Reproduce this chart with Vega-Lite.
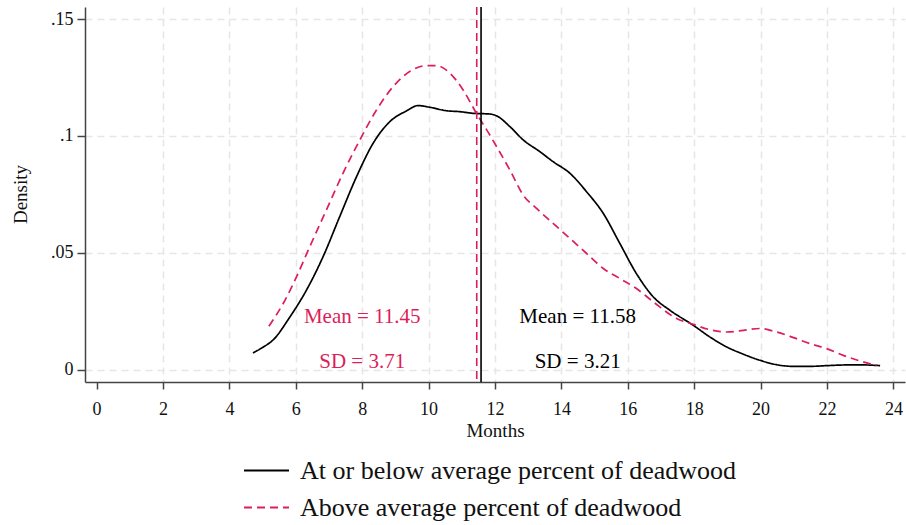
{
  "$schema": "https://vega.github.io/schema/vega-lite/v6.json",
  "width": 820,
  "height": 375,
  "autosize": {"type": "none"},
  "padding": {"left": 85, "top": 7, "right": 1, "bottom": 143},
  "background": "white",
  "config": {
    "font": "Liberation Serif",
    "view": {"stroke": null},
    "axis": {
      "labelFont": "Liberation Serif",
      "titleFont": "Liberation Serif",
      "labelFontSize": 18,
      "titleFontSize": 19,
      "labelColor": "#111",
      "titleColor": "#111",
      "titleFontWeight": "normal",
      "domainColor": "#444",
      "domainWidth": 1.5,
      "tickColor": "#444",
      "tickWidth": 1.5,
      "gridColor": "#e6e6e6",
      "gridWidth": 1.5,
      "gridDash": [7, 5]
    }
  },
  "datasets": {
    "curves": [
      {"series": "At or below average percent of deadwood", "month": 4.71, "density": 0.0071},
      {"series": "At or below average percent of deadwood", "month": 5.0, "density": 0.0095},
      {"series": "At or below average percent of deadwood", "month": 5.31, "density": 0.0126},
      {"series": "At or below average percent of deadwood", "month": 5.82, "density": 0.0225},
      {"series": "At or below average percent of deadwood", "month": 6.32, "density": 0.034},
      {"series": "At or below average percent of deadwood", "month": 6.82, "density": 0.0483},
      {"series": "At or below average percent of deadwood", "month": 7.32, "density": 0.0654},
      {"series": "At or below average percent of deadwood", "month": 7.83, "density": 0.0826},
      {"series": "At or below average percent of deadwood", "month": 8.33, "density": 0.0969},
      {"series": "At or below average percent of deadwood", "month": 8.83, "density": 0.1061},
      {"series": "At or below average percent of deadwood", "month": 9.33, "density": 0.1107},
      {"series": "At or below average percent of deadwood", "month": 9.68, "density": 0.113},
      {"series": "At or below average percent of deadwood", "month": 10.03, "density": 0.1123},
      {"series": "At or below average percent of deadwood", "month": 10.54, "density": 0.1108},
      {"series": "At or below average percent of deadwood", "month": 10.94, "density": 0.1104},
      {"series": "At or below average percent of deadwood", "month": 11.34, "density": 0.1097},
      {"series": "At or below average percent of deadwood", "month": 11.84, "density": 0.1094},
      {"series": "At or below average percent of deadwood", "month": 12.05, "density": 0.1086},
      {"series": "At or below average percent of deadwood", "month": 12.45, "density": 0.104},
      {"series": "At or below average percent of deadwood", "month": 12.85, "density": 0.0983},
      {"series": "At or below average percent of deadwood", "month": 13.35, "density": 0.0933},
      {"series": "At or below average percent of deadwood", "month": 13.75, "density": 0.089},
      {"series": "At or below average percent of deadwood", "month": 14.26, "density": 0.084},
      {"series": "At or below average percent of deadwood", "month": 14.76, "density": 0.0761},
      {"series": "At or below average percent of deadwood", "month": 15.26, "density": 0.0669},
      {"series": "At or below average percent of deadwood", "month": 15.76, "density": 0.054},
      {"series": "At or below average percent of deadwood", "month": 16.26, "density": 0.0411},
      {"series": "At or below average percent of deadwood", "month": 16.77, "density": 0.0311},
      {"series": "At or below average percent of deadwood", "month": 17.27, "density": 0.0254},
      {"series": "At or below average percent of deadwood", "month": 17.97, "density": 0.019},
      {"series": "At or below average percent of deadwood", "month": 18.47, "density": 0.014},
      {"series": "At or below average percent of deadwood", "month": 18.98, "density": 0.0097},
      {"series": "At or below average percent of deadwood", "month": 19.48, "density": 0.0066},
      {"series": "At or below average percent of deadwood", "month": 19.98, "density": 0.004},
      {"series": "At or below average percent of deadwood", "month": 20.48, "density": 0.0021},
      {"series": "At or below average percent of deadwood", "month": 20.99, "density": 0.0014},
      {"series": "At or below average percent of deadwood", "month": 21.49, "density": 0.0014},
      {"series": "At or below average percent of deadwood", "month": 21.99, "density": 0.0017},
      {"series": "At or below average percent of deadwood", "month": 22.59, "density": 0.002},
      {"series": "At or below average percent of deadwood", "month": 23.1, "density": 0.002},
      {"series": "At or below average percent of deadwood", "month": 23.6, "density": 0.0017},
      {"series": "Above average percent of deadwood", "month": 5.19, "density": 0.0186},
      {"series": "Above average percent of deadwood", "month": 5.62, "density": 0.0283},
      {"series": "Above average percent of deadwood", "month": 6.02, "density": 0.0397},
      {"series": "Above average percent of deadwood", "month": 6.42, "density": 0.0526},
      {"series": "Above average percent of deadwood", "month": 6.92, "density": 0.0683},
      {"series": "Above average percent of deadwood", "month": 7.42, "density": 0.084},
      {"series": "Above average percent of deadwood", "month": 7.93, "density": 0.0983},
      {"series": "Above average percent of deadwood", "month": 8.43, "density": 0.1111},
      {"series": "Above average percent of deadwood", "month": 8.93, "density": 0.1211},
      {"series": "Above average percent of deadwood", "month": 9.43, "density": 0.1276},
      {"series": "Above average percent of deadwood", "month": 9.94, "density": 0.1301},
      {"series": "Above average percent of deadwood", "month": 10.24, "density": 0.1301},
      {"series": "Above average percent of deadwood", "month": 10.64, "density": 0.1269},
      {"series": "Above average percent of deadwood", "month": 11.04, "density": 0.1197},
      {"series": "Above average percent of deadwood", "month": 11.44, "density": 0.1097},
      {"series": "Above average percent of deadwood", "month": 11.84, "density": 0.1005},
      {"series": "Above average percent of deadwood", "month": 12.05, "density": 0.0954},
      {"series": "Above average percent of deadwood", "month": 12.45, "density": 0.0854},
      {"series": "Above average percent of deadwood", "month": 12.85, "density": 0.0747},
      {"series": "Above average percent of deadwood", "month": 13.25, "density": 0.069},
      {"series": "Above average percent of deadwood", "month": 13.75, "density": 0.0626},
      {"series": "Above average percent of deadwood", "month": 14.26, "density": 0.0561},
      {"series": "Above average percent of deadwood", "month": 14.76, "density": 0.0497},
      {"series": "Above average percent of deadwood", "month": 15.26, "density": 0.0433},
      {"series": "Above average percent of deadwood", "month": 15.76, "density": 0.039},
      {"series": "Above average percent of deadwood", "month": 16.26, "density": 0.0347},
      {"series": "Above average percent of deadwood", "month": 16.77, "density": 0.029},
      {"series": "Above average percent of deadwood", "month": 17.47, "density": 0.0219},
      {"series": "Above average percent of deadwood", "month": 17.97, "density": 0.0194},
      {"series": "Above average percent of deadwood", "month": 18.47, "density": 0.0171},
      {"series": "Above average percent of deadwood", "month": 18.98, "density": 0.0161},
      {"series": "Above average percent of deadwood", "month": 19.48, "density": 0.0168},
      {"series": "Above average percent of deadwood", "month": 19.98, "density": 0.0176},
      {"series": "Above average percent of deadwood", "month": 20.48, "density": 0.0161},
      {"series": "Above average percent of deadwood", "month": 20.99, "density": 0.0137},
      {"series": "Above average percent of deadwood", "month": 21.49, "density": 0.0111},
      {"series": "Above average percent of deadwood", "month": 21.99, "density": 0.009},
      {"series": "Above average percent of deadwood", "month": 22.49, "density": 0.0061},
      {"series": "Above average percent of deadwood", "month": 22.99, "density": 0.0037},
      {"series": "Above average percent of deadwood", "month": 23.5, "density": 0.0018}
    ],
    "means": [
      {"series": "Above average percent of deadwood", "mean": 11.45},
      {"series": "At or below average percent of deadwood", "mean": 11.58}
    ],
    "notes": [
      {"series": "Above average percent of deadwood", "month": 8.0, "density": 0.0224, "label": "Mean = 11.45"},
      {"series": "Above average percent of deadwood", "month": 8.0, "density": 0.0033, "label": "SD = 3.71"},
      {"series": "At or below average percent of deadwood", "month": 14.49, "density": 0.0224, "label": "Mean = 11.58"},
      {"series": "At or below average percent of deadwood", "month": 14.49, "density": 0.0033, "label": "SD = 3.21"}
    ]
  },
  "layer": [
    {
      "data": {"name": "curves"},
      "mark": {"type": "line", "strokeWidth": 1.7, "interpolate": "monotone"},
      "encoding": {
        "x": {
          "field": "month", "type": "quantitative",
          "scale": {"domain": [-0.35, 24.35], "nice": false, "zero": false},
          "axis": {
            "title": "Months",
            "values": [0, 2, 4, 6, 8, 10, 12, 14, 16, 18, 20, 22, 24],
            "tickSize": 7,
            "labelPadding": 11,
            "titleX": 410,
            "titleY": 48,
            "titleBaseline": "middle",
            "titleAlign": "center",
            "gridOpacity": {"condition": {"test": "datum.value == 0", "value": 0}, "value": 1}
          }
        },
        "y": {
          "field": "density", "type": "quantitative",
          "scale": {"domain": [-0.0053, 0.1552], "nice": false, "zero": false},
          "axis": {
            "title": "Density",
            "values": [0, 0.05, 0.1, 0.15],
            "labelExpr": "datum.value == 0 ? '0' : replace(toString(datum.value), '0.', '.')",
            "tickSize": 8,
            "labelPadding": 4,
            "titleX": -65,
            "titleY": 187,
            "titleAngle": 270,
            "titleBaseline": "middle",
            "titleAlign": "center"
          }
        },
        "color": {
          "field": "series", "type": "nominal",
          "scale": {
            "domain": ["At or below average percent of deadwood", "Above average percent of deadwood"],
            "range": ["#000000", "#dc1e5a"]
          },
          "legend": {
            "title": null,
            "orient": "none",
            "legendX": 158,
            "legendY": 440,
            "direction": "vertical",
            "symbolType": "stroke",
            "symbolSize": 2025,
            "symbolStrokeWidth": 2,
            "labelFont": "Liberation Serif",
            "labelFontSize": 26,
            "labelColor": "#111",
            "labelOffset": 10,
            "rowPadding": -8,
            "labelLimit": 700
          }
        },
        "strokeDash": {
          "field": "series", "type": "nominal",
          "scale": {
            "domain": ["At or below average percent of deadwood", "Above average percent of deadwood"],
            "range": [[1, 0], [8, 5]]
          },
          "legend": null
        }
      }
    },
    {
      "data": {"name": "means"},
      "mark": {"type": "rule", "strokeWidth": 1.6},
      "encoding": {
        "x": {"field": "mean", "type": "quantitative"},
        "color": {"field": "series", "type": "nominal", "legend": null},
        "strokeDash": {"field": "series", "type": "nominal", "scale": {"range": [[1, 0], [7, 4]]}, "legend": null},
        "order": {"field": "mean"}
      }
    },
    {
      "data": {"name": "notes"},
      "mark": {"type": "text", "font": "Liberation Serif", "fontSize": 21, "baseline": "middle", "align": "center"},
      "encoding": {
        "x": {"field": "month", "type": "quantitative"},
        "y": {"field": "density", "type": "quantitative"},
        "text": {"field": "label", "type": "nominal"},
        "color": {"field": "series", "type": "nominal", "legend": null}
      }
    }
  ]
}
